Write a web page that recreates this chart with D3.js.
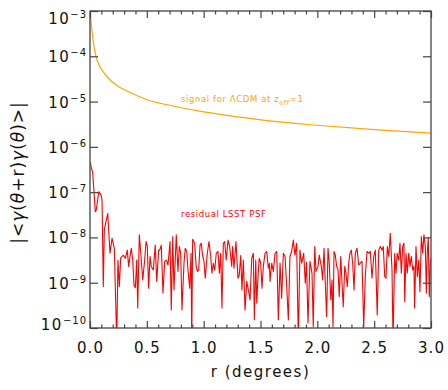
<!DOCTYPE html>
<html><head><meta charset="utf-8">
<script src="https://cdn.jsdelivr.net/npm/d3@7"></script>
<style>body{margin:0;background:#fff}svg{display:block}text{font-family:"DejaVu Sans",sans-serif}</style>
</head><body><svg id="c" width="448" height="390"></svg>
<script>
// ---- data ----
const signalR = [0, 0.01, 0.02, 0.03, 0.053, 0.08, 0.12, 0.18, 0.25, 0.35, 0.5, 0.7, 1.0, 1.3, 1.6, 2.0, 2.5, 3.0];
const signalValues = [1e-3, 5.5e-4, 3.2e-4, 2.0e-4, 1.0e-4, 6.4e-5, 4.4e-5, 2.95e-5, 2.15e-5, 1.6e-5, 1.1e-5, 8.3e-6, 5.9e-6, 4.6e-6, 3.7e-6, 3.0e-6, 2.4e-6, 2.0e-6];

const residualR = [0.000,0.024,0.047,0.055,0.077,0.097,0.106,0.117,0.126,0.156,0.176,0.194,0.214,0.235,0.246,0.258,0.270,0.293,0.311,0.328,0.340,0.352,0.363,0.376,0.387,0.399,0.411,0.420,0.434,0.449,0.464,0.481,0.493,0.504,0.516,0.528,0.539,0.557,0.574,0.587,0.604,
0.613,0.627,0.642,0.657,0.671,0.686,0.704,0.715,0.728,0.739,0.759,0.774,0.786,0.798,0.809,0.827,0.838,0.851,0.862,0.877,0.889,0.895,0.903,0.921,0.933,0.944,0.956,0.968,0.979,0.991,1.003,1.014,1.032,1.047,1.062,1.073,1.085,1.097,1.111,1.126,1.138,1.150,1.161,1.173,1.185,1.199,1.214,1.229,
1.247,1.255,1.267,1.284,1.302,1.313,1.326,1.337,1.349,1.364,1.379,1.393,1.408,1.423,1.437,1.446,1.458,1.467,1.478,1.489,1.502,1.513,1.525,1.540,1.555,1.569,1.578,1.584,1.599,1.613,1.628,1.643,1.657,1.672,1.686,1.701,1.716,1.730,1.745,1.759,1.774,1.789,1.803,1.818,1.833,1.847,1.862,
1.880,1.894,1.905,1.918,1.935,1.953,1.964,1.977,1.988,2.006,2.017,2.035,2.047,2.059,2.070,2.082,2.094,2.105,2.118,2.129,2.138,2.147,2.158,2.170,2.182,2.193,2.206,2.217,2.228,2.241,2.252,2.264,2.276,2.287,2.299,2.311,2.323,2.334,2.349,2.364,2.378,2.393,2.408,2.422,2.437,2.452,2.466,2.481,
2.496,2.510,2.527,2.540,2.554,2.569,2.580,2.593,2.604,2.616,2.628,2.642,2.657,2.666,2.681,2.692,2.703,2.716,2.727,2.739,2.751,2.762,2.769,2.780,2.791,2.804,2.815,2.827,2.839,2.850,2.856,2.868,2.880,2.892,2.903,2.915,2.927,2.938,2.950,2.959,2.967,2.976,2.985,2.994,3.000];
// residual amplitude, as log10 of |<gamma gamma>|
const residualLog10 = [-6.33,-6.58,-7.43,-7.40,-6.99,-7.06,-7.17,-9.09,-7.83,-7.47,-8.35,-8.02,-8.24,-10.3,-8.50,-9.09,-8.45,-8.39,-8.46,-8.28,-8.64,-8.42,-8.24,-8.50,-9.05,-9.11,-8.50,-9.56,-7.94,-8.42,-8.94,-8.50,-8.09,-8.20,-9.12,-8.42,-8.64,-8.72,-8.17,-8.97,-8.28,
-8.28,-8.17,-9.23,-8.53,-8.50,-8.61,-8.09,-9.60,-7.98,-9.16,-7.94,-8.75,-8.20,-8.35,-9.60,-8.57,-8.24,-8.31,-8.72,-9.12,-8.35,-10.3,-8.04,-8.13,-8.61,-8.75,-8.72,-8.17,-8.13,-8.40,-8.53,-8.90,-8.35,-8.09,-8.42,-8.79,-8.57,-8.72,-8.35,-8.31,-8.79,-8.35,-9.56,-8.13,-8.09,-8.50,-8.06,-8.20,
-8.64,-8.20,-8.68,-8.09,-8.90,-8.83,-8.40,-9.16,-8.50,-9.60,-8.97,-9.16,-9.38,-8.46,-8.35,-9.82,-8.50,-9.45,-8.86,-8.46,-8.57,-9.12,-8.64,-8.35,-8.31,-8.68,-8.57,-8.97,-8.57,-8.75,-8.35,-8.31,-9.82,-8.57,-9.34,-8.35,-8.42,-9.05,-9.82,-8.42,-8.31,-8.06,-8.39,-8.13,-10.3,-8.28,-8.57,
-8.35,-9.01,-8.55,-9.89,-8.53,-8.79,-9.97,-8.20,-8.75,-8.64,-8.39,-8.64,-8.94,-8.24,-9.01,-9.75,-8.24,-8.57,-9.38,-8.94,-9.97,-8.31,-8.39,-8.64,-8.72,-9.31,-8.42,-9.01,-9.53,-8.64,-8.79,-9.09,-8.57,-8.35,-8.28,-8.57,-9.16,-8.35,-8.24,-8.61,-8.57,-8.53,-9.97,-8.86,-8.31,-8.35,-8.31,-8.90,
-8.42,-8.28,-9.71,-8.28,-8.20,-8.28,-8.20,-8.86,-8.90,-8.20,-8.42,-7.91,-8.72,-10.3,-8.35,-8.79,-8.35,-8.50,-8.13,-8.79,-8.20,-8.13,-9.42,-8.35,-8.79,-8.35,-8.64,-8.42,-8.72,-8.64,-9.56,-8.20,-8.86,-8.50,-9.20,-7.98,-8.35,-7.94,-8.20,-9.23,-8.35,-8.00,-9.31,-8.53,-8.45];

const xMajorTicks = [0, 0.5, 1.0, 1.5, 2.0, 2.5, 3.0];
const xMinorTicks = [0.1,0.2,0.3,0.4,0.6,0.7,0.8,0.9,1.1,1.2,1.3,1.4,1.6,1.7,1.8,1.9,2.1,2.2,2.3,2.4,2.6,2.7,2.8,2.9];
const yTickExponents = [-3, -4, -5, -6, -7, -8, -9, -10];

// ---- layout ----
const L = 90, R = 431, T = 11, B = 328;
const svg = d3.select("#c");
const x = d3.scaleLinear().domain([0, 3]).range([L, R]);
const y = d3.scaleLog().domain([1e-10, 1e-3]).range([B, T]);
const axisColor = "#444";

svg.append("defs").append("clipPath").attr("id", "clip")
  .append("rect").attr("x", L).attr("y", T).attr("width", R - L).attr("height", B - T);

const plot = svg.append("g").attr("clip-path", "url(#clip)");

const signal = signalR.map((r, i) => [r, signalValues[i]]);
const residual = residualR.map((r, i) => [r, Math.pow(10, residualLog10[i])]);

plot.append("path").datum(signal)
  .attr("d", d3.line().curve(d3.curveMonotoneX).x(d => x(d[0])).y(d => y(d[1])))
  .attr("fill", "none").attr("stroke", "#ffa500").attr("stroke-width", 1.2);
plot.append("path").datum(residual)
  .attr("d", d3.line().x(d => x(d[0])).y(d => y(d[1])))
  .attr("fill", "none").attr("stroke", "#ff0000").attr("stroke-width", 1.1).attr("stroke-linejoin", "round");

// ---- axes ----
function styleAxis(g) {
  g.select(".domain").remove();
  g.selectAll(".tick line").attr("stroke", axisColor).attr("stroke-width", 1.2);
}
const yTickVals = yTickExponents.map(e => Math.pow(10, e));

svg.append("g").attr("transform", `translate(0,${B})`)
  .call(d3.axisBottom(x).tickValues(xMajorTicks).tickSize(-7).tickPadding(14).tickFormat(d3.format(".1f")))
  .call(styleAxis)
  .call(g => g.selectAll("text").attr("font-size", 15).attr("fill", "#111").attr("font-family", "DejaVu Sans").attr("letter-spacing", 1));
svg.append("g").attr("transform", `translate(0,${B})`)
  .call(d3.axisBottom(x).tickValues(xMinorTicks).tickSize(-3.5).tickFormat(""))
  .call(styleAxis);
svg.append("g").attr("transform", `translate(0,${T})`)
  .call(d3.axisTop(x).tickValues(xMajorTicks).tickSize(-7).tickFormat(""))
  .call(styleAxis);
svg.append("g").attr("transform", `translate(0,${T})`)
  .call(d3.axisTop(x).tickValues(xMinorTicks).tickSize(-3.5).tickFormat(""))
  .call(styleAxis);
const yl = svg.append("g").attr("transform", `translate(${L},0)`)
  .call(d3.axisLeft(y).tickValues(yTickVals).tickSize(-8).tickFormat(""))
  .call(styleAxis);
svg.append("g").attr("transform", `translate(${R},0)`)
  .call(d3.axisRight(y).tickValues(yTickVals).tickSize(-8).tickFormat(""))
  .call(styleAxis);

// y tick labels 10^n, kept inside the frame at the extremes
yl.selectAll(".tick").each(function(d) {
  const e = Math.round(Math.log10(d));
  const py = y(d);
  const shift = Math.max(17.5, Math.min(323.5, py)) - py;
  const t = d3.select(this).append("text")
    .attr("x", -3).attr("y", shift + 5.5)
    .attr("text-anchor", "end").attr("fill", "#111")
    .attr("font-size", 15).attr("letter-spacing", 1.5);
  t.append("tspan").text("10");
  t.append("tspan").attr("dy", -6).attr("font-size", 10).attr("letter-spacing", 1).text("\u2212" + (-e));
});

// frame
svg.append("rect").attr("x", L).attr("y", T).attr("width", R - L).attr("height", B - T)
  .attr("fill", "none").attr("stroke", axisColor).attr("stroke-width", 1.3);

// axis titles
svg.append("text").attr("x", (L + R) / 2).attr("y", 377).attr("text-anchor", "middle")
  .attr("font-size", 15).attr("letter-spacing", 1.5).attr("fill", "#111").text("r (degrees)");

const yt = svg.append("text").attr("transform", `translate(24,${(T + B) / 2 + 3}) rotate(-90)`)
  .attr("text-anchor", "middle").attr("font-size", 17).attr("letter-spacing", 1).attr("fill", "#111");
yt.append("tspan").text("|<");
yt.append("tspan").attr("font-style", "italic").text("γ");
yt.append("tspan").text("(");
yt.append("tspan").attr("font-style", "italic").text("θ");
yt.append("tspan").text("+r)");
yt.append("tspan").attr("font-style", "italic").text("γ");
yt.append("tspan").text("(");
yt.append("tspan").attr("font-style", "italic").text("θ");
yt.append("tspan").text(")>|");

// annotations
const s = svg.append("text").attr("x", 181).attr("y", 102).attr("font-size", 8.5)
  .attr("fill", "#ffa500").attr("letter-spacing", 0.6);
s.append("tspan").text("signal for ΛCDM at z");
s.append("tspan").attr("dy", 2.5).attr("font-size", 6.5).text("eff");
s.append("tspan").attr("dy", -2.5).text("=1");

svg.append("text").attr("x", 181).attr("y", 217).attr("font-size", 8.5)
  .attr("fill", "#ff0000").attr("letter-spacing", 0.6).text("residual LSST PSF");
</script></body></html>
